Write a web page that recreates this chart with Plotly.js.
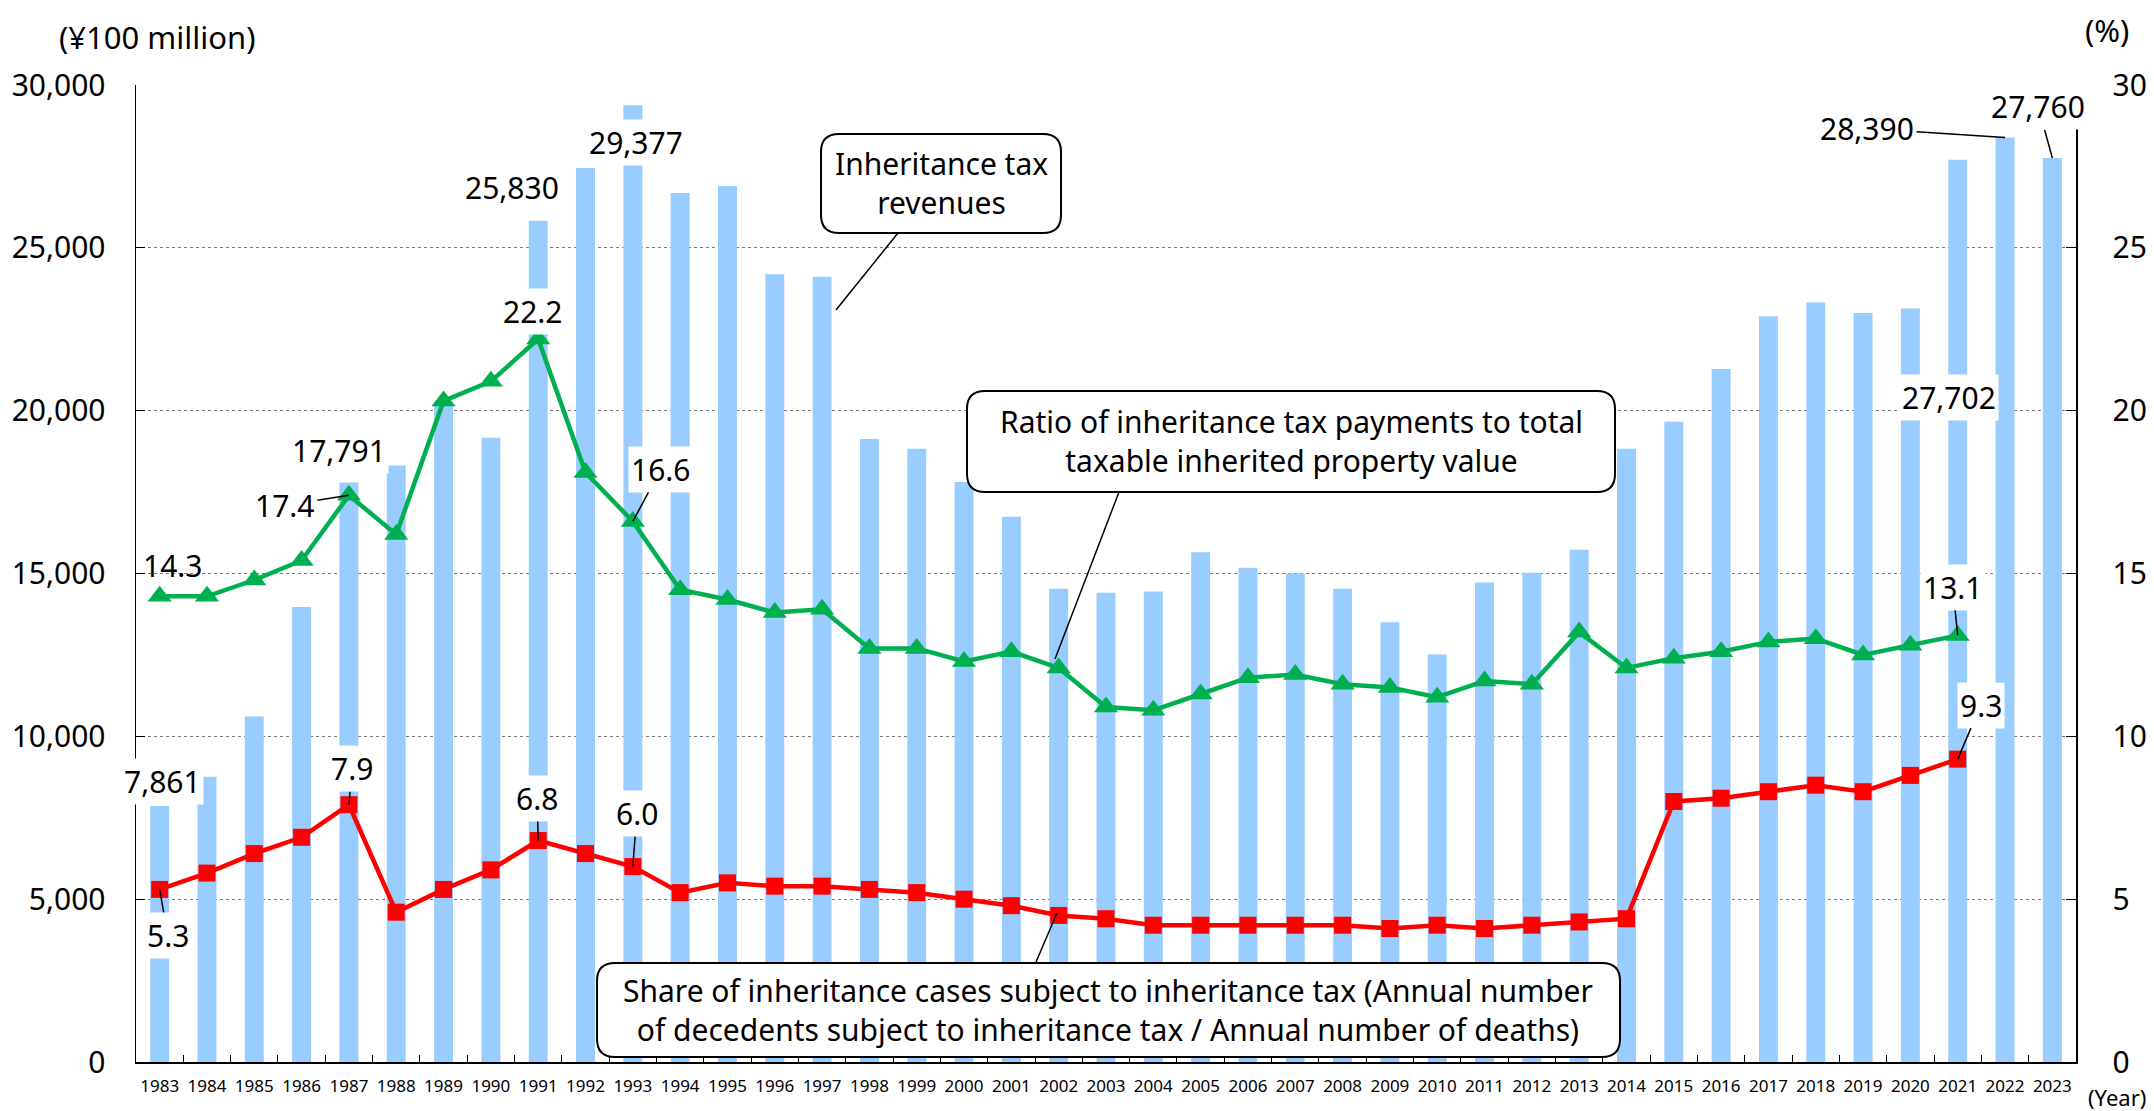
<!DOCTYPE html>
<html><head><meta charset="utf-8">
<script src="https://cdn.plot.ly/plotly-3.0.1.min.js"></script>
<style>html,body{margin:0;padding:0;background:#fff;}#chart{width:2154px;height:1111px;}</style>
</head><body><div id="chart"></div>
<script>
// ---------- data ----------
const years = ['1983','1984','1985','1986','1987','1988','1989','1990','1991','1992',
  '1993','1994','1995','1996','1997','1998','1999','2000','2001','2002',
  '2003','2004','2005','2006','2007','2008','2009','2010','2011','2012',
  '2013','2014','2015','2016','2017','2018','2019','2020','2021','2022','2023'];
// Inheritance tax revenues (¥100 million)
const revenue = [7861, 8760, 10610, 13970, 17791, 18320, 20180, 19170, 25830, 27450,
  29377, 26680, 26900, 24190, 24110, 19130, 18830, 17810, 16740, 14530,
  14410, 14450, 15650, 15180, 15000, 14530, 13500, 12510, 14720, 15020,
  15730, 18830, 19660, 21280, 22900, 23320, 23000, 23140, 27702, 28390, 27760];
// Ratio of inheritance tax payments to total taxable inherited property value (%)
const ratioPct = [14.3, 14.3, 14.8, 15.4, 17.4, 16.2, 20.3, 20.9, 22.2, 18.1,
  16.6, 14.5, 14.2, 13.8, 13.9, 12.7, 12.7, 12.3, 12.6, 12.1,
  10.9, 10.8, 11.3, 11.8, 11.9, 11.6, 11.5, 11.2, 11.7, 11.6,
  13.2, 12.1, 12.4, 12.6, 12.9, 13.0, 12.5, 12.8, 13.1];
// Share of inheritance cases subject to inheritance tax (%)
const sharePct = [5.3, 5.8, 6.4, 6.9, 7.9, 4.6, 5.3, 5.9, 6.8, 6.4,
  6.0, 5.2, 5.5, 5.4, 5.4, 5.3, 5.2, 5.0, 4.8, 4.5,
  4.4, 4.2, 4.2, 4.2, 4.2, 4.2, 4.1, 4.2, 4.1, 4.2,
  4.3, 4.4, 8.0, 8.1, 8.3, 8.5, 8.3, 8.8, 9.3];
const lineYears = years.slice(0, ratioPct.length);

// ---------- layout helpers ----------
const L = 136, R = 2076, T = 85, B = 1062;
const px = x => (x - L) / (R - L);
const py = y => (B - y) / (B - T);
const FONT = 'Noto Sans, Open Sans, DejaVu Sans, sans-serif';

const series = {
  rev:   {arr: revenue,  yref: 'y',  fmt: v => v.toLocaleString('en-US')},
  ratio: {arr: ratioPct, yref: 'y2', fmt: v => v.toFixed(1)},
  share: {arr: sharePct, yref: 'y2', fmt: v => v.toFixed(1)}
};
function valLabel(name, year, dx, dy, arrow, bg) {
  const s = series[name];
  const i = years.indexOf(year);
  const a = {
    x: i, y: s.arr[i], xref: 'x', yref: s.yref,
    text: s.fmt(s.arr[i]),
    font: {family: FONT, size: 30, color: '#000'},
    bgcolor: bg ? '#ffffff' : 'rgba(0,0,0,0)', borderpad: 2,
    xanchor: 'center', yanchor: 'middle',
    showarrow: arrow
  };
  if (arrow) {
    Object.assign(a, {ax: dx, ay: dy, arrowhead: 0, arrowwidth: 1.5, arrowcolor: '#000', standoff: 0});
  } else {
    Object.assign(a, {xshift: dx, yshift: -dy});
  }
  return a;
}
function paperText(text, x, y, size) {
  return {text, x: px(x), y: py(y), xref: 'paper', yref: 'paper', showarrow: false,
    xanchor: 'center', yanchor: 'middle', font: {family: FONT, size, color: '#000'}};
}
function rrect(x0, y0, x1, y1, r) {
  const rx = r / (R - L), ry = r / (B - T);
  const X0 = px(x0), X1 = px(x1), Y0 = py(y0), Y1 = py(y1);
  return `M${X0+rx},${Y0} L${X1-rx},${Y0} Q${X1},${Y0} ${X1},${Y0-ry} L${X1},${Y1+ry} Q${X1},${Y1} ${X1-rx},${Y1} L${X0+rx},${Y1} Q${X0},${Y1} ${X0},${Y1+ry} L${X0},${Y0-ry} Q${X0},${Y0} ${X0+rx},${Y0} Z`;
}
function box(x0, y0, x1, y1) {
  return {type: 'path', xref: 'paper', yref: 'paper', path: rrect(x0, y0, x1, y1, 18),
    fillcolor: '#ffffff', line: {color: '#000', width: 2}, layer: 'above'};
}
function pointer(x0, y0, x1, y1) {
  return {type: 'line', xref: 'paper', yref: 'paper', x0: px(x0), y0: py(y0), x1: px(x1), y1: py(y1),
    line: {color: '#000', width: 1.5}, layer: 'above'};
}

// ---------- traces ----------
const traces = [
  {type: 'bar', x: years, y: revenue, yaxis: 'y', marker: {color: '#99CCFF', line: {width: 0}},
   hoverinfo: 'x+y'},
  {type: 'scatter', mode: 'lines+markers', x: lineYears, y: ratioPct, yaxis: 'y2',
   line: {color: '#00B050', width: 4.5}, marker: {symbol: 'triangle-up', size: 21, color: '#00B050'}},
  {type: 'scatter', mode: 'lines+markers', x: lineYears, y: sharePct, yaxis: 'y2',
   line: {color: '#FF0000', width: 4.5}, marker: {symbol: 'square', size: 17, color: '#FF0000'}}
];

const annotations = [
  valLabel('rev', '1983', 3, -24, false, true),
  valLabel('share', '1983', 8, 46, true, true),
  valLabel('ratio', '1983', 13, -31, false, false),
  valLabel('rev', '1987', -10, -32, false, true),
  valLabel('ratio', '1987', -64, 10, true, false),
  valLabel('share', '1987', 3, -36, true, true),
  valLabel('rev', '1991', -26, -33, false, false),
  valLabel('ratio', '1991', -5, -28, false, true),
  valLabel('share', '1991', -1, -42, true, true),
  valLabel('rev', '1993', 3, 37, false, true),
  valLabel('ratio', '1993', 28, -52, true, true),
  valLabel('share', '1993', 4, -53, true, true),
  valLabel('rev', '2021', -9, 238, false, true),
  valLabel('ratio', '2021', -5, -48, true, true),
  valLabel('share', '2021', 23, -54, true, true),
  valLabel('rev', '2022', -138, -9, true, false),
  valLabel('rev', '2023', -14, -51, true, true),
  paperText('(¥100 million)', 157, 37, 31),
  paperText('(%)', 2107, 30, 31),
  paperText('(Year)', 2117, 1097, 22),
  paperText('Inheritance tax<br>revenues', 941, 183, 30),
  paperText('Ratio of inheritance tax payments to total<br>taxable inherited property value', 1291, 441, 30),
  paperText('Share of inheritance cases subject to inheritance tax (Annual number<br>of decedents subject to inheritance tax / Annual number of deaths)', 1108, 1010, 30)
];

const shapes = [
  pointer(898, 233, 836, 310),
  box(821, 134, 1061, 233),
  pointer(1119, 492, 1055, 659),
  box(967, 391, 1615, 492),
  pointer(1036, 962, 1057, 913),
  box(597, 963, 1620, 1057)
];

const layout = {
  width: 2154, height: 1111, autosize: false,
  margin: {l: L, r: 2154 - R, t: T, b: 1111 - B, pad: 0},
  paper_bgcolor: '#ffffff', plot_bgcolor: '#ffffff',
  showlegend: false, bargap: 0.6,
  font: {family: FONT, color: '#000'},
  xaxis: {type: 'category', range: [-0.5, years.length - 0.5], tickson: 'boundaries',
    ticks: 'inside', ticklen: 7, tickcolor: '#000', tickwidth: 1,
    showline: true, linecolor: '#000', linewidth: 1.5, showgrid: false, zeroline: false,
    tickangle: 0, tickfont: {family: FONT, size: 17, color: '#000'}, ticklabelstandoff: 8,
    automargin: false},
  yaxis: {range: [0, 30000], dtick: 5000, tick0: 0, tickformat: ',d',
    showline: true, linecolor: '#000', linewidth: 1.5, ticks: 'inside', ticklen: 9, tickcolor: '#000',
    showgrid: true, gridcolor: '#7a7a7a', gridwidth: 1.2, griddash: 'dot', zeroline: false,
    tickfont: {family: FONT, size: 30, color: '#000'}, ticklabelstandoff: 23, automargin: false},
  yaxis2: {range: [0, 30], dtick: 5, tick0: 0, overlaying: 'y', side: 'right',
    showline: true, linecolor: '#000', linewidth: 1.5, ticks: 'inside', ticklen: 10, tickcolor: '#000',
    showgrid: false, zeroline: false,
    tickfont: {family: FONT, size: 30, color: '#000'}, ticklabelstandoff: 29, automargin: false},
  annotations, shapes
};

Plotly.newPlot('chart', traces, layout, {displayModeBar: false, staticPlot: true});
</script></body></html>
